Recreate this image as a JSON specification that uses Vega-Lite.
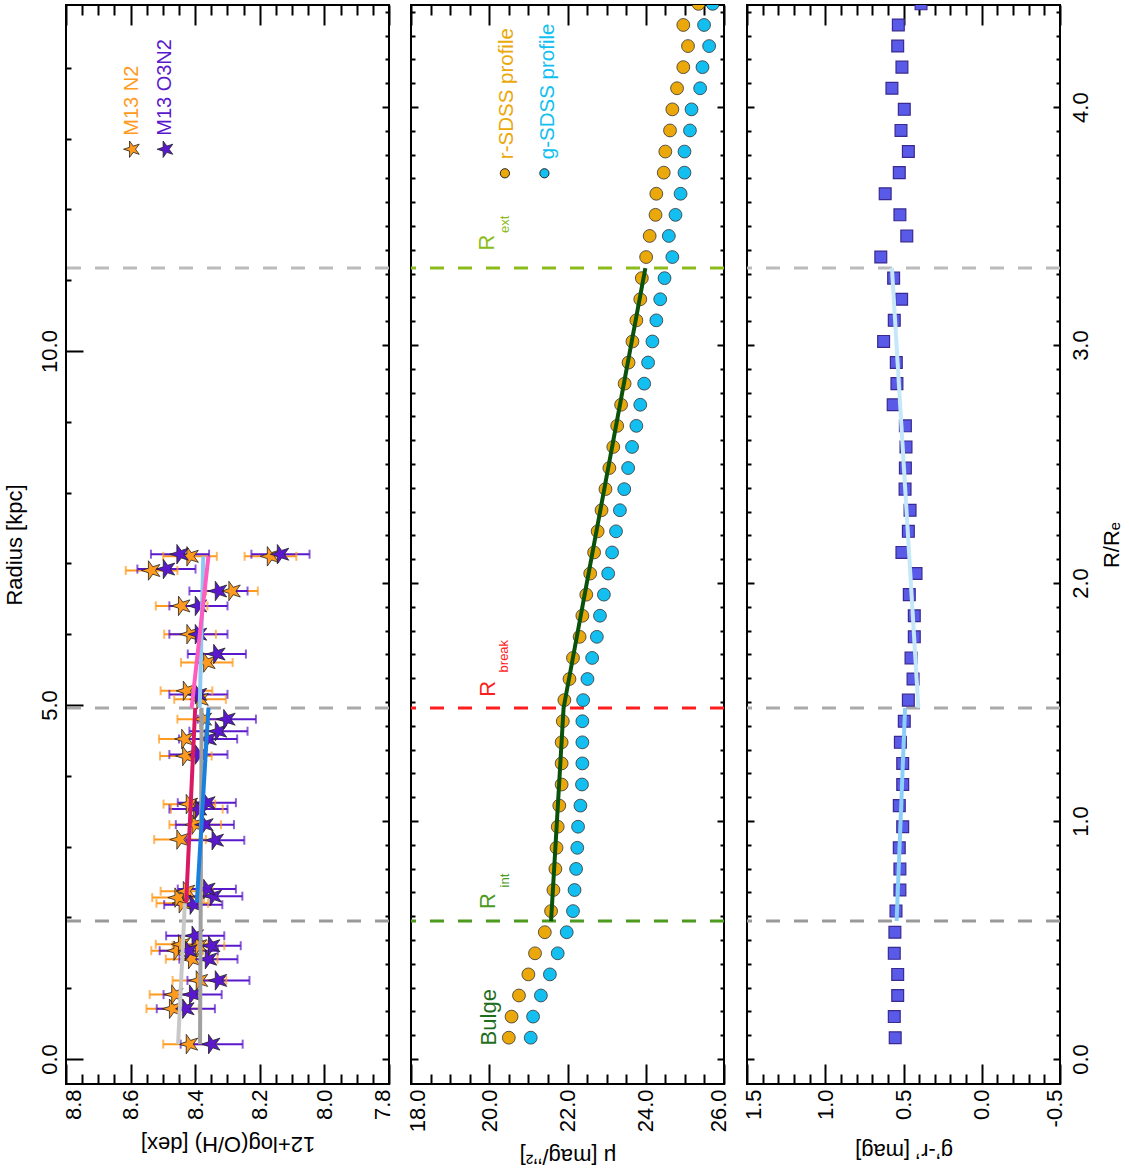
{
"$schema": "https://vega.github.io/schema/vega-lite/v6.json",
"background": "white",
"padding": {"left": 2, "top": 0, "right": 5, "bottom": 5},
"spacing": 11,
"config": {
  "view": {"stroke": "#000", "strokeWidth": 2},
  "axis": {"domain": false, "grid": false, "tickColor": "#000", "tickWidth": 2, "labelFont": "Liberation Sans", "labelFontSize": 22, "labelColor": "#000", "titleFont": "Liberation Sans", "titleFontSize": 22, "titleFontWeight": "normal", "titleColor": "#000", "labelFlush": false, "labelOverlap": false, "labelBound": false},
  "text": {"font": "Liberation Sans"}
},
"datasets": {
  "met": [
    {"cal":"N2","r":0.21,"v":8.418,"lo":8.337,"hi":8.499},
    {"cal":"N2","r":0.71,"v":8.470,"lo":8.389,"hi":8.551},
    {"cal":"N2","r":0.91,"v":8.463,"lo":8.385,"hi":8.541},
    {"cal":"N2","r":1.11,"v":8.387,"lo":8.304,"hi":8.470},
    {"cal":"N2","r":1.41,"v":8.411,"lo":8.331,"hi":8.491},
    {"cal":"N2","r":1.53,"v":8.456,"lo":8.376,"hi":8.536},
    {"cal":"N2","r":1.62,"v":8.442,"lo":8.362,"hi":8.522},
    {"cal":"N2","r":1.60,"v":8.390,"lo":8.310,"hi":8.470},
    {"cal":"N2","r":2.20,"v":8.440,"lo":8.360,"hi":8.520},
    {"cal":"N2","r":2.28,"v":8.453,"lo":8.373,"hi":8.533},
    {"cal":"N2","r":2.37,"v":8.427,"lo":8.347,"hi":8.507},
    {"cal":"N2","r":3.10,"v":8.447,"lo":8.367,"hi":8.527},
    {"cal":"N2","r":3.31,"v":8.400,"lo":8.320,"hi":8.480},
    {"cal":"N2","r":3.53,"v":8.395,"lo":8.315,"hi":8.475},
    {"cal":"N2","r":3.60,"v":8.418,"lo":8.338,"hi":8.498},
    {"cal":"N2","r":4.28,"v":8.429,"lo":8.349,"hi":8.509},
    {"cal":"N2","r":4.52,"v":8.432,"lo":8.352,"hi":8.512},
    {"cal":"N2","r":4.80,"v":8.375,"lo":8.295,"hi":8.455},
    {"cal":"N2","r":5.08,"v":8.385,"lo":8.305,"hi":8.465},
    {"cal":"N2","r":5.20,"v":8.427,"lo":8.347,"hi":8.507},
    {"cal":"N2","r":5.60,"v":8.364,"lo":8.284,"hi":8.444},
    {"cal":"N2","r":6.00,"v":8.416,"lo":8.336,"hi":8.496},
    {"cal":"N2","r":6.40,"v":8.442,"lo":8.362,"hi":8.522},
    {"cal":"N2","r":6.61,"v":8.286,"lo":8.206,"hi":8.366},
    {"cal":"N2","r":6.90,"v":8.535,"lo":8.455,"hi":8.615},
    {"cal":"N2","r":7.10,"v":8.416,"lo":8.333,"hi":8.499},
    {"cal":"N2","r":7.10,"v":8.167,"lo":8.087,"hi":8.247},
    {"cal":"O3N2","r":0.21,"v":8.349,"lo":8.253,"hi":8.445},
    {"cal":"O3N2","r":0.71,"v":8.429,"lo":8.339,"hi":8.519},
    {"cal":"O3N2","r":0.91,"v":8.408,"lo":8.318,"hi":8.498},
    {"cal":"O3N2","r":1.11,"v":8.328,"lo":8.232,"hi":8.424},
    {"cal":"O3N2","r":1.41,"v":8.359,"lo":8.269,"hi":8.449},
    {"cal":"O3N2","r":1.53,"v":8.420,"lo":8.330,"hi":8.510},
    {"cal":"O3N2","r":1.60,"v":8.349,"lo":8.259,"hi":8.439},
    {"cal":"O3N2","r":1.74,"v":8.400,"lo":8.310,"hi":8.490},
    {"cal":"O3N2","r":2.18,"v":8.406,"lo":8.316,"hi":8.496},
    {"cal":"O3N2","r":2.30,"v":8.344,"lo":8.254,"hi":8.434},
    {"cal":"O3N2","r":2.40,"v":8.364,"lo":8.274,"hi":8.454},
    {"cal":"O3N2","r":3.09,"v":8.338,"lo":8.248,"hi":8.428},
    {"cal":"O3N2","r":3.31,"v":8.370,"lo":8.280,"hi":8.460},
    {"cal":"O3N2","r":3.53,"v":8.390,"lo":8.300,"hi":8.480},
    {"cal":"O3N2","r":3.62,"v":8.364,"lo":8.274,"hi":8.454},
    {"cal":"O3N2","r":4.30,"v":8.390,"lo":8.300,"hi":8.480},
    {"cal":"O3N2","r":4.52,"v":8.360,"lo":8.270,"hi":8.450},
    {"cal":"O3N2","r":4.63,"v":8.328,"lo":8.238,"hi":8.418},
    {"cal":"O3N2","r":4.80,"v":8.302,"lo":8.212,"hi":8.392},
    {"cal":"O3N2","r":5.15,"v":8.390,"lo":8.300,"hi":8.480},
    {"cal":"O3N2","r":5.72,"v":8.333,"lo":8.243,"hi":8.423},
    {"cal":"O3N2","r":6.00,"v":8.390,"lo":8.300,"hi":8.480},
    {"cal":"O3N2","r":6.40,"v":8.390,"lo":8.300,"hi":8.480},
    {"cal":"O3N2","r":6.61,"v":8.328,"lo":8.238,"hi":8.418},
    {"cal":"O3N2","r":6.92,"v":8.489,"lo":8.399,"hi":8.579},
    {"cal":"O3N2","r":7.13,"v":8.447,"lo":8.357,"hi":8.537},
    {"cal":"O3N2","r":7.13,"v":8.136,"lo":8.046,"hi":8.226}
  ],
  "metfit": [
    {"seg":"n2bulge","r":0.21,"v":8.453},{"seg":"n2bulge","r":2.2,"v":8.432},
    {"seg":"o3bulge","r":0.21,"v":8.385},{"seg":"o3bulge","r":4.96,"v":8.38},
    {"seg":"n2in","r":2.21,"v":8.428},{"seg":"n2in","r":4.96,"v":8.40},
    {"seg":"o3in","r":2.21,"v":8.395},{"seg":"o3in","r":4.96,"v":8.359},
    {"seg":"o3out","r":4.96,"v":8.386},{"seg":"o3out","r":7.10,"v":8.375},
    {"seg":"n2out","r":4.96,"v":8.411},{"seg":"n2out","r":7.10,"v":8.359}
  ],
  "metleg": [
    {"cal":"N2","t":"M13 N2","v":8.597,"r":13.04,"sv":8.595,"sr":12.85},
    {"cal":"O3N2","t":"M13 O3N2","v":8.494,"r":13.04,"sv":8.491,"sr":12.85}
  ],
  "vl": [{"k":"int","r":1.949},{"k":"break","r":4.958},{"k":"ext","r":11.172}],
  "vl3": [{"k":"int","rre":0.580},{"k":"break","rre":1.475},{"k":"ext","rre":3.324}],
  "prof": [
    {"b":"r","r":0.301,"mu":20.50},{"b":"r","r":0.599,"mu":20.57},{"b":"r","r":0.897,"mu":20.76},{"b":"r","r":1.195,"mu":21.00},{"b":"r","r":1.493,"mu":21.17},
    {"b":"r","r":1.791,"mu":21.42},{"b":"r","r":2.089,"mu":21.58},{"b":"r","r":2.387,"mu":21.64},{"b":"r","r":2.685,"mu":21.69},{"b":"r","r":2.983,"mu":21.72},
    {"b":"r","r":3.281,"mu":21.75},{"b":"r","r":3.579,"mu":21.79},{"b":"r","r":3.877,"mu":21.85},{"b":"r","r":4.175,"mu":21.85},{"b":"r","r":4.473,"mu":21.85},
    {"b":"r","r":4.771,"mu":21.88},{"b":"r","r":5.069,"mu":21.92},{"b":"r","r":5.367,"mu":22.05},{"b":"r","r":5.665,"mu":22.14},{"b":"r","r":5.963,"mu":22.31},
    {"b":"r","r":6.261,"mu":22.38},{"b":"r","r":6.559,"mu":22.48},{"b":"r","r":6.857,"mu":22.58},{"b":"r","r":7.155,"mu":22.68},{"b":"r","r":7.453,"mu":22.77},
    {"b":"r","r":7.751,"mu":22.87},{"b":"r","r":8.049,"mu":22.97},{"b":"r","r":8.347,"mu":23.07},{"b":"r","r":8.645,"mu":23.17},{"b":"r","r":8.943,"mu":23.27},
    {"b":"r","r":9.241,"mu":23.37},{"b":"r","r":9.539,"mu":23.46},{"b":"r","r":9.837,"mu":23.56},{"b":"r","r":10.135,"mu":23.66},{"b":"r","r":10.433,"mu":23.76},
    {"b":"r","r":10.731,"mu":23.86},{"b":"r","r":11.029,"mu":23.90},{"b":"r","r":11.327,"mu":24.01},{"b":"r","r":11.625,"mu":24.10},{"b":"r","r":11.923,"mu":24.25},
    {"b":"r","r":12.221,"mu":24.27},{"b":"r","r":12.519,"mu":24.46},{"b":"r","r":12.817,"mu":24.50},{"b":"r","r":13.115,"mu":24.62},{"b":"r","r":13.413,"mu":24.68},
    {"b":"r","r":13.711,"mu":24.80},{"b":"r","r":14.009,"mu":24.96},{"b":"r","r":14.307,"mu":25.08},{"b":"r","r":14.605,"mu":24.96},{"b":"r","r":14.903,"mu":25.35},
    {"b":"g","r":0.301,"mu":21.06},{"b":"g","r":0.599,"mu":21.12},{"b":"g","r":0.897,"mu":21.32},{"b":"g","r":1.195,"mu":21.55},{"b":"g","r":1.493,"mu":21.75},
    {"b":"g","r":1.791,"mu":21.98},{"b":"g","r":2.089,"mu":22.14},{"b":"g","r":2.387,"mu":22.18},{"b":"g","r":2.685,"mu":22.22},{"b":"g","r":2.983,"mu":22.25},
    {"b":"g","r":3.281,"mu":22.27},{"b":"g","r":3.579,"mu":22.33},{"b":"g","r":3.877,"mu":22.37},{"b":"g","r":4.175,"mu":22.38},{"b":"g","r":4.473,"mu":22.38},
    {"b":"g","r":4.771,"mu":22.38},{"b":"g","r":5.069,"mu":22.40},{"b":"g","r":5.367,"mu":22.51},{"b":"g","r":5.665,"mu":22.63},{"b":"g","r":5.963,"mu":22.75},
    {"b":"g","r":6.261,"mu":22.83},{"b":"g","r":6.559,"mu":22.93},{"b":"g","r":6.857,"mu":23.04},{"b":"g","r":7.155,"mu":23.14},{"b":"g","r":7.453,"mu":23.24},
    {"b":"g","r":7.751,"mu":23.34},{"b":"g","r":8.049,"mu":23.45},{"b":"g","r":8.347,"mu":23.55},{"b":"g","r":8.645,"mu":23.65},{"b":"g","r":8.943,"mu":23.76},
    {"b":"g","r":9.241,"mu":23.86},{"b":"g","r":9.539,"mu":23.96},{"b":"g","r":9.837,"mu":24.06},{"b":"g","r":10.135,"mu":24.17},{"b":"g","r":10.433,"mu":24.27},
    {"b":"g","r":10.731,"mu":24.37},{"b":"g","r":11.029,"mu":24.48},{"b":"g","r":11.327,"mu":24.68},{"b":"g","r":11.625,"mu":24.59},{"b":"g","r":11.923,"mu":24.76},
    {"b":"g","r":12.221,"mu":24.89},{"b":"g","r":12.519,"mu":24.99},{"b":"g","r":12.817,"mu":24.99},{"b":"g","r":13.115,"mu":25.13},{"b":"g","r":13.413,"mu":25.17},
    {"b":"g","r":13.711,"mu":25.39},{"b":"g","r":14.009,"mu":25.45},{"b":"g","r":14.307,"mu":25.62},{"b":"g","r":14.605,"mu":25.49},{"b":"g","r":14.903,"mu":25.71}
  ],
  "proffit": [{"r":1.949,"mu":21.58},{"r":4.958,"mu":21.90},{"r":11.172,"mu":23.99}],
  "profleg": [
    {"b":"r","t":"r-SDSS profile","mu":20.45,"r":12.71,"cmu":20.40,"cr":12.51},
    {"b":"g","t":"g-SDSS profile","mu":21.51,"r":12.71,"cmu":21.41,"cr":12.51}
  ],
  "ann": [
    {"k":"bulge","t":"Bulge","mu":19.99,"r":0.59,"sz":"big"},
    {"k":"int","t":"R","mu":19.97,"r":2.23,"sz":"big"},
    {"k":"int","t":"int","mu":20.40,"r":2.52,"sz":"small"},
    {"k":"break","t":"R","mu":19.97,"r":5.23,"sz":"big"},
    {"k":"break","t":"break","mu":20.37,"r":5.69,"sz":"small"},
    {"k":"ext","t":"R","mu":19.94,"r":11.53,"sz":"big"},
    {"k":"ext","t":"ext","mu":20.40,"r":11.79,"sz":"small"}
  ],
  "col": [
    {"rre":0.0895,"c":0.553},{"rre":0.1782,"c":0.559},{"rre":0.2668,"c":0.537},{"rre":0.3555,"c":0.537},{"rre":0.4441,"c":0.559},
    {"rre":0.5328,"c":0.555},{"rre":0.6215,"c":0.548},{"rre":0.7101,"c":0.523},{"rre":0.7988,"c":0.523},{"rre":0.8874,"c":0.527},
    {"rre":0.9761,"c":0.505},{"rre":1.0648,"c":0.527},{"rre":1.1534,"c":0.505},{"rre":1.2421,"c":0.505},{"rre":1.3307,"c":0.520},
    {"rre":1.4194,"c":0.495},{"rre":1.5081,"c":0.469},{"rre":1.5967,"c":0.439},{"rre":1.6854,"c":0.452},{"rre":1.7740,"c":0.431},
    {"rre":1.8627,"c":0.431},{"rre":1.9514,"c":0.463},{"rre":2.0400,"c":0.420},{"rre":2.1287,"c":0.510},{"rre":2.2173,"c":0.469},
    {"rre":2.3060,"c":0.458},{"rre":2.3947,"c":0.490},{"rre":2.4833,"c":0.488},{"rre":2.5720,"c":0.484},{"rre":2.6606,"c":0.488},
    {"rre":2.7493,"c":0.566},{"rre":2.8380,"c":0.542},{"rre":2.9266,"c":0.546},{"rre":3.0153,"c":0.627},{"rre":3.1039,"c":0.559},
    {"rre":3.1926,"c":0.512},{"rre":3.2813,"c":0.563},{"rre":3.3699,"c":0.645},{"rre":3.4586,"c":0.479},{"rre":3.5472,"c":0.523},
    {"rre":3.6359,"c":0.617},{"rre":3.7246,"c":0.527},{"rre":3.8132,"c":0.469},{"rre":3.9019,"c":0.516},{"rre":3.9905,"c":0.495},
    {"rre":4.0792,"c":0.574},{"rre":4.1679,"c":0.510},{"rre":4.2565,"c":0.537},{"rre":4.3452,"c":0.533},{"rre":4.4338,"c":0.388}
  ],
  "colfit": [
    {"seg":"in","rre":0.580,"c":0.544},{"seg":"in","rre":1.475,"c":0.490},
    {"seg":"out","rre":1.475,"c":0.405},{"seg":"out","rre":3.324,"c":0.574}
  ]
},
"hconcat": [
{
  "width": 323, "height": 1079,
  "resolve": {"axis": {"x": "independent", "y": "independent"}, "scale": {"color": "independent", "fill": "independent"}},
  "layer": [
    {"data": {"name": "met"}, "mark": {"type": "point", "opacity": 0},
     "encoding": {
       "x": {"field": "v", "type": "quantitative", "scale": {"domain": [7.8, 8.8], "reverse": true, "nice": false, "zero": false},
             "axis": {"orient": "bottom", "values": [8.8, 8.6, 8.4, 8.2, 8.0, 7.8], "format": ".1f", "tickSize": -20, "labelAngle": -90, "labelAlign": "right", "labelBaseline": "middle", "labelPadding": 25,
                      "labelOffset": {"condition": [{"test": "datum.value > 8.75", "value": 7}, {"test": "datum.value < 7.85", "value": -7}], "value": 0},
                      "title": "12+log(O/H) [dex]", "titleAngle": 180, "titleBaseline": "bottom", "titlePadding": 12}},
       "y": {"field": "r", "type": "quantitative", "scale": {"domain": [-0.353, 14.887], "nice": false, "zero": false},
             "axis": {"orient": "left", "values": [0, 5, 10], "format": ".1f", "tickSize": -17, "labelAngle": -90, "labelAlign": "center", "labelBaseline": "bottom", "labelPadding": 22, "title": "Radius [kpc]", "titlePadding": 12}}}},
    {"data": {"name": "met"}, "mark": {"type": "point", "opacity": 0},
     "encoding": {
       "x": {"field": "v", "type": "quantitative", "scale": {"domain": [7.8, 8.8], "reverse": true, "nice": false, "zero": false},
             "axis": {"orient": "bottom", "values": [8.75, 8.7, 8.65, 8.55, 8.5, 8.45, 8.35, 8.3, 8.25, 8.15, 8.1, 8.05, 7.95, 7.9, 7.85], "tickSize": -10, "labels": false, "title": null}},
       "y": {"field": "r", "type": "quantitative", "scale": {"domain": [-0.353, 14.887], "nice": false, "zero": false},
             "axis": {"orient": "left", "values": [1, 2, 3, 4, 6, 7, 8, 9, 11, 12, 13, 14], "tickSize": -5, "labels": false, "title": null}}}},
    {"data": {"name": "met"}, "mark": {"type": "point", "opacity": 0},
     "encoding": {
       "x": {"field": "v", "type": "quantitative", "scale": {"domain": [7.8, 8.8], "reverse": true, "nice": false, "zero": false},
             "axis": {"orient": "top", "values": [8.8, 8.6, 8.4, 8.2, 8.0, 7.8], "tickSize": -20, "labels": false, "title": null}},
       "y": {"field": "r", "type": "quantitative", "scale": {"domain": [-0.353, 14.887], "nice": false, "zero": false},
             "axis": {"orient": "right", "values": [0, 3.362, 6.723, 10.085, 13.446], "tickSize": -7, "labels": false, "title": null}}}},
    {"data": {"name": "met"}, "mark": {"type": "point", "opacity": 0},
     "encoding": {
       "x": {"field": "v", "type": "quantitative", "scale": {"domain": [7.8, 8.8], "reverse": true, "nice": false, "zero": false},
             "axis": {"orient": "top", "values": [8.75, 8.7, 8.65, 8.55, 8.5, 8.45, 8.35, 8.3, 8.25, 8.15, 8.1, 8.05, 7.95, 7.9, 7.85], "tickSize": -10, "labels": false, "title": null}},
       "y": {"field": "r", "type": "quantitative", "scale": {"domain": [-0.353, 14.887], "nice": false, "zero": false},
             "axis": {"orient": "right", "values": [0.336, 0.672, 1.008, 1.345, 1.681, 2.017, 2.353, 2.689, 3.025, 3.698, 4.034, 4.370, 4.706, 5.042, 5.379, 5.715, 6.051, 6.387, 7.059, 7.396, 7.732, 8.068, 8.404, 8.740, 9.076, 9.412, 9.749, 10.421, 10.757, 11.093, 11.429, 11.766, 12.102, 12.438, 12.774, 13.110, 13.783, 14.119, 14.455, 14.791], "tickSize": -4, "labels": false, "title": null}}}},
    {"data": {"name": "vl"}, "mark": {"type": "rule", "strokeWidth": 3, "strokeDash": [14, 14]},
     "encoding": {
       "y": {"field": "r", "type": "quantitative", "scale": {"domain": [-0.353, 14.887], "nice": false, "zero": false}, "axis": null},
       "color": {"field": "k", "type": "nominal", "scale": {"domain": ["int", "break", "ext"], "range": ["#999999", "#aaaaaa", "#bbbbbb"]}, "legend": null}}},
    {"data": {"name": "met"}, "mark": {"type": "rule", "strokeWidth": 2},
     "encoding": {
       "x": {"field": "lo", "type": "quantitative", "scale": {"domain": [7.8, 8.8], "reverse": true, "nice": false, "zero": false}, "axis": null},
       "x2": {"field": "hi"},
       "y": {"field": "r", "type": "quantitative", "scale": {"domain": [-0.353, 14.887], "nice": false, "zero": false}, "axis": null},
       "color": {"field": "cal", "type": "nominal", "scale": {"domain": ["N2", "O3N2"], "range": ["#ff9a1e", "#5a18cc"]}, "legend": null}}},
    {"data": {"name": "met"}, "mark": {"type": "tick", "orient": "vertical", "size": 9, "thickness": 2},
     "encoding": {
       "x": {"field": "lo", "type": "quantitative", "scale": {"domain": [7.8, 8.8], "reverse": true, "nice": false, "zero": false}, "axis": null},
       "y": {"field": "r", "type": "quantitative", "scale": {"domain": [-0.353, 14.887], "nice": false, "zero": false}, "axis": null},
       "color": {"field": "cal", "type": "nominal", "scale": {"domain": ["N2", "O3N2"], "range": ["#ff9a1e", "#5a18cc"]}, "legend": null}}},
    {"data": {"name": "met"}, "mark": {"type": "tick", "orient": "vertical", "size": 9, "thickness": 2},
     "encoding": {
       "x": {"field": "hi", "type": "quantitative", "scale": {"domain": [7.8, 8.8], "reverse": true, "nice": false, "zero": false}, "axis": null},
       "y": {"field": "r", "type": "quantitative", "scale": {"domain": [-0.353, 14.887], "nice": false, "zero": false}, "axis": null},
       "color": {"field": "cal", "type": "nominal", "scale": {"domain": ["N2", "O3N2"], "range": ["#ff9a1e", "#5a18cc"]}, "legend": null}}},
    {"data": {"name": "met"}, "mark": {"type": "point", "shape": "M-1,0L-0.307,-0.223L-0.309,-0.951L0.117,-0.361L0.809,-0.588L0.38,0L0.809,0.588L0.117,0.361L-0.309,0.951L-0.307,0.223Z", "filled": true, "stroke": "#222", "strokeWidth": 0.8, "size": 420, "opacity": 1},
     "encoding": {
       "x": {"field": "v", "type": "quantitative", "scale": {"domain": [7.8, 8.8], "reverse": true, "nice": false, "zero": false}, "axis": null},
       "y": {"field": "r", "type": "quantitative", "scale": {"domain": [-0.353, 14.887], "nice": false, "zero": false}, "axis": null},
       "fill": {"field": "cal", "type": "nominal", "scale": {"domain": ["N2", "O3N2"], "range": ["#ff9a1e", "#5a18cc"]}, "legend": null}}},
    {"data": {"name": "metfit"}, "mark": {"type": "line", "strokeWidth": 4},
     "encoding": {
       "x": {"field": "v", "type": "quantitative", "scale": {"domain": [7.8, 8.8], "reverse": true, "nice": false, "zero": false}, "axis": null},
       "y": {"field": "r", "type": "quantitative", "scale": {"domain": [-0.353, 14.887], "nice": false, "zero": false}, "axis": null},
       "order": {"field": "r", "type": "quantitative"},
       "color": {"field": "seg", "type": "nominal", "scale": {"domain": ["n2bulge", "o3bulge", "n2in", "o3in", "o3out", "n2out"], "range": ["#c8c8c8", "#a0a0a0", "#d81a64", "#1a80e0", "#8ccaf2", "#ff5cc0"]}, "legend": null}}},
    {"data": {"name": "metleg"}, "mark": {"type": "text", "angle": 270, "align": "left", "baseline": "middle", "fontSize": 20},
     "encoding": {
       "x": {"field": "v", "type": "quantitative", "scale": {"domain": [7.8, 8.8], "reverse": true, "nice": false, "zero": false}, "axis": null},
       "y": {"field": "r", "type": "quantitative", "scale": {"domain": [-0.353, 14.887], "nice": false, "zero": false}, "axis": null},
       "text": {"field": "t"},
       "color": {"field": "cal", "type": "nominal", "scale": {"domain": ["N2", "O3N2"], "range": ["#ff9a1e", "#5a18cc"]}, "legend": null}}},
    {"data": {"name": "metleg"}, "mark": {"type": "point", "shape": "M-1,0L-0.307,-0.223L-0.309,-0.951L0.117,-0.361L0.809,-0.588L0.38,0L0.809,0.588L0.117,0.361L-0.309,0.951L-0.307,0.223Z", "filled": true, "stroke": "#222", "strokeWidth": 0.8, "size": 300, "opacity": 1},
     "encoding": {
       "x": {"field": "sv", "type": "quantitative", "scale": {"domain": [7.8, 8.8], "reverse": true, "nice": false, "zero": false}, "axis": null},
       "y": {"field": "sr", "type": "quantitative", "scale": {"domain": [-0.353, 14.887], "nice": false, "zero": false}, "axis": null},
       "fill": {"field": "cal", "type": "nominal", "scale": {"domain": ["N2", "O3N2"], "range": ["#ff9a1e", "#5a18cc"]}, "legend": null}}}
  ]
},
{
  "width": 313, "height": 1079,
  "resolve": {"axis": {"x": "independent", "y": "independent"}, "scale": {"color": "independent", "fill": "independent"}},
  "layer": [
    {"data": {"name": "prof"}, "mark": {"type": "point", "opacity": 0},
     "encoding": {
       "x": {"field": "mu", "type": "quantitative", "scale": {"domain": [18, 26], "nice": false, "zero": false},
             "axis": {"orient": "bottom", "values": [18, 20, 22, 24, 26], "format": ".1f", "tickSize": -20, "labelAngle": -90, "labelAlign": "right", "labelBaseline": "middle", "labelPadding": 25,
                      "labelOffset": {"condition": [{"test": "datum.value < 18.5", "value": 6}, {"test": "datum.value > 25.5", "value": -6}], "value": 0},
                      "title": "μ [mag/’’²]", "titleAngle": 180, "titleBaseline": "bottom", "titlePadding": 12}},
       "y": {"field": "r", "type": "quantitative", "scale": {"domain": [-0.353, 14.887], "nice": false, "zero": false},
             "axis": {"orient": "left", "values": [0, 3.362, 6.723, 10.085, 13.446], "tickSize": -7, "labels": false, "title": null}}}},
    {"data": {"name": "prof"}, "mark": {"type": "point", "opacity": 0},
     "encoding": {
       "x": {"field": "mu", "type": "quantitative", "scale": {"domain": [18, 26], "nice": false, "zero": false},
             "axis": {"orient": "bottom", "values": [18.5, 19, 19.5, 20.5, 21, 21.5, 22.5, 23, 23.5, 24.5, 25, 25.5], "tickSize": -10, "labels": false, "title": null}},
       "y": {"field": "r", "type": "quantitative", "scale": {"domain": [-0.353, 14.887], "nice": false, "zero": false},
             "axis": {"orient": "left", "values": [0.336, 0.672, 1.008, 1.345, 1.681, 2.017, 2.353, 2.689, 3.025, 3.698, 4.034, 4.370, 4.706, 5.042, 5.379, 5.715, 6.051, 6.387, 7.059, 7.396, 7.732, 8.068, 8.404, 8.740, 9.076, 9.412, 9.749, 10.421, 10.757, 11.093, 11.429, 11.766, 12.102, 12.438, 12.774, 13.110, 13.783, 14.119, 14.455, 14.791], "tickSize": -4, "labels": false, "title": null}}}},
    {"data": {"name": "prof"}, "mark": {"type": "point", "opacity": 0},
     "encoding": {
       "x": {"field": "mu", "type": "quantitative", "scale": {"domain": [18, 26], "nice": false, "zero": false},
             "axis": {"orient": "top", "values": [18, 20, 22, 24, 26], "tickSize": -20, "labels": false, "title": null}},
       "y": {"field": "r", "type": "quantitative", "scale": {"domain": [-0.353, 14.887], "nice": false, "zero": false},
             "axis": {"orient": "right", "values": [0, 3.362, 6.723, 10.085, 13.446], "tickSize": -7, "labels": false, "title": null}}}},
    {"data": {"name": "prof"}, "mark": {"type": "point", "opacity": 0},
     "encoding": {
       "x": {"field": "mu", "type": "quantitative", "scale": {"domain": [18, 26], "nice": false, "zero": false},
             "axis": {"orient": "top", "values": [18.5, 19, 19.5, 20.5, 21, 21.5, 22.5, 23, 23.5, 24.5, 25, 25.5], "tickSize": -10, "labels": false, "title": null}},
       "y": {"field": "r", "type": "quantitative", "scale": {"domain": [-0.353, 14.887], "nice": false, "zero": false},
             "axis": {"orient": "right", "values": [0.336, 0.672, 1.008, 1.345, 1.681, 2.017, 2.353, 2.689, 3.025, 3.698, 4.034, 4.370, 4.706, 5.042, 5.379, 5.715, 6.051, 6.387, 7.059, 7.396, 7.732, 8.068, 8.404, 8.740, 9.076, 9.412, 9.749, 10.421, 10.757, 11.093, 11.429, 11.766, 12.102, 12.438, 12.774, 13.110, 13.783, 14.119, 14.455, 14.791], "tickSize": -4, "labels": false, "title": null}}}},
    {"data": {"name": "vl"}, "mark": {"type": "rule", "strokeWidth": 3, "strokeDash": [14, 14]},
     "encoding": {
       "y": {"field": "r", "type": "quantitative", "scale": {"domain": [-0.353, 14.887], "nice": false, "zero": false}, "axis": null},
       "color": {"field": "k", "type": "nominal", "scale": {"domain": ["int", "break", "ext"], "range": ["#4c9a1e", "#ff1e1e", "#8cbc1c"]}, "legend": null}}},
    {"data": {"name": "prof"}, "mark": {"type": "point", "shape": "circle", "filled": true, "stroke": "#333", "strokeWidth": 0.8, "size": 165, "opacity": 1, "clip": true},
     "encoding": {
       "x": {"field": "mu", "type": "quantitative", "scale": {"domain": [18, 26], "nice": false, "zero": false}, "axis": null},
       "y": {"field": "r", "type": "quantitative", "scale": {"domain": [-0.353, 14.887], "nice": false, "zero": false}, "axis": null},
       "fill": {"field": "b", "type": "nominal", "scale": {"domain": ["r", "g"], "range": ["#eba80a", "#12bff0"]}, "legend": null}}},
    {"data": {"name": "proffit"}, "mark": {"type": "line", "strokeWidth": 4, "color": "#0a520a"},
     "encoding": {
       "x": {"field": "mu", "type": "quantitative", "scale": {"domain": [18, 26], "nice": false, "zero": false}, "axis": null},
       "y": {"field": "r", "type": "quantitative", "scale": {"domain": [-0.353, 14.887], "nice": false, "zero": false}, "axis": null},
       "order": {"field": "r", "type": "quantitative"}}},
    {"data": {"name": "profleg"}, "mark": {"type": "text", "angle": 270, "align": "left", "baseline": "middle", "fontSize": 20.5},
     "encoding": {
       "x": {"field": "mu", "type": "quantitative", "scale": {"domain": [18, 26], "nice": false, "zero": false}, "axis": null},
       "y": {"field": "r", "type": "quantitative", "scale": {"domain": [-0.353, 14.887], "nice": false, "zero": false}, "axis": null},
       "text": {"field": "t"},
       "color": {"field": "b", "type": "nominal", "scale": {"domain": ["r", "g"], "range": ["#eba80a", "#12bff0"]}, "legend": null}}},
    {"data": {"name": "profleg"}, "mark": {"type": "point", "shape": "circle", "filled": true, "stroke": "#222", "strokeWidth": 1, "size": 85, "opacity": 1},
     "encoding": {
       "x": {"field": "cmu", "type": "quantitative", "scale": {"domain": [18, 26], "nice": false, "zero": false}, "axis": null},
       "y": {"field": "cr", "type": "quantitative", "scale": {"domain": [-0.353, 14.887], "nice": false, "zero": false}, "axis": null},
       "fill": {"field": "b", "type": "nominal", "scale": {"domain": ["r", "g"], "range": ["#eba80a", "#12bff0"]}, "legend": null}}},
    {"data": {"name": "ann"}, "transform": [{"filter": "datum.sz === 'big'"}], "mark": {"type": "text", "angle": 270, "align": "center", "baseline": "middle", "fontSize": 22},
     "encoding": {
       "x": {"field": "mu", "type": "quantitative", "scale": {"domain": [18, 26], "nice": false, "zero": false}, "axis": null},
       "y": {"field": "r", "type": "quantitative", "scale": {"domain": [-0.353, 14.887], "nice": false, "zero": false}, "axis": null},
       "text": {"field": "t"},
       "color": {"field": "k", "type": "nominal", "scale": {"domain": ["bulge", "int", "break", "ext"], "range": ["#1e6e1e", "#4c9a1e", "#ff1e1e", "#8cbc1c"]}, "legend": null}}},
    {"data": {"name": "ann"}, "transform": [{"filter": "datum.sz === 'small'"}], "mark": {"type": "text", "angle": 270, "align": "center", "baseline": "middle", "fontSize": 13},
     "encoding": {
       "x": {"field": "mu", "type": "quantitative", "scale": {"domain": [18, 26], "nice": false, "zero": false}, "axis": null},
       "y": {"field": "r", "type": "quantitative", "scale": {"domain": [-0.353, 14.887], "nice": false, "zero": false}, "axis": null},
       "text": {"field": "t"},
       "color": {"field": "k", "type": "nominal", "scale": {"domain": ["bulge", "int", "break", "ext"], "range": ["#1e6e1e", "#4c9a1e", "#ff1e1e", "#8cbc1c"]}, "legend": null}}}
  ]
},
{
  "width": 313, "height": 1079,
  "resolve": {"axis": {"x": "independent", "y": "independent"}, "scale": {"color": "independent"}},
  "layer": [
    {"data": {"name": "col"}, "mark": {"type": "point", "opacity": 0},
     "encoding": {
       "x": {"field": "c", "type": "quantitative", "scale": {"domain": [-0.5, 1.5], "reverse": true, "nice": false, "zero": false},
             "axis": {"orient": "bottom", "values": [1.5, 1.0, 0.5, 0.0, -0.5], "format": ".1f", "labelExpr": "replace(datum.label, '\u2212', '-')", "tickSize": -20, "labelAngle": -90, "labelAlign": "right", "labelBaseline": "middle", "labelPadding": 25,
                      "labelOffset": {"condition": [{"test": "datum.value > 1.45", "value": 6}, {"test": "datum.value < -0.45", "value": -6}], "value": 0},
                      "title": "g’-r’ [mag]", "titleAngle": 180, "titleBaseline": "bottom", "titlePadding": 12}},
       "y": {"field": "rre", "type": "quantitative", "scale": {"domain": [-0.105, 4.429], "nice": false, "zero": false},
             "axis": {"orient": "left", "values": [0, 1, 2, 3, 4], "tickSize": -7, "labels": false, "title": null}}}},
    {"data": {"name": "col"}, "mark": {"type": "point", "opacity": 0},
     "encoding": {
       "x": {"field": "c", "type": "quantitative", "scale": {"domain": [-0.5, 1.5], "reverse": true, "nice": false, "zero": false},
             "axis": {"orient": "bottom", "values": [1.4, 1.3, 1.2, 1.1, 0.9, 0.8, 0.7, 0.6, 0.4, 0.3, 0.2, 0.1, -0.1, -0.2, -0.3, -0.4], "tickSize": -10, "labels": false, "title": null}},
       "y": {"field": "rre", "type": "quantitative", "scale": {"domain": [-0.105, 4.429], "nice": false, "zero": false},
             "axis": {"orient": "left", "values": [0.1,0.2,0.3,0.4,0.5,0.6,0.7,0.8,0.9,1.1,1.2,1.3,1.4,1.5,1.6,1.7,1.8,1.9,2.1,2.2,2.3,2.4,2.5,2.6,2.7,2.8,2.9,3.1,3.2,3.3,3.4,3.5,3.6,3.7,3.8,3.9,4.1,4.2,4.3,4.4], "tickSize": -4, "labels": false, "title": null}}}},
    {"data": {"name": "col"}, "mark": {"type": "point", "opacity": 0},
     "encoding": {
       "x": {"field": "c", "type": "quantitative", "scale": {"domain": [-0.5, 1.5], "reverse": true, "nice": false, "zero": false},
             "axis": {"orient": "top", "values": [1.5, 1.0, 0.5, 0.0, -0.5], "tickSize": -20, "labels": false, "title": null}},
       "y": {"field": "rre", "type": "quantitative", "scale": {"domain": [-0.105, 4.429], "nice": false, "zero": false},
             "axis": {"orient": "right", "values": [0, 1, 2, 3, 4], "format": ".1f", "tickSize": -7, "labelAngle": -90, "labelAlign": "center", "labelBaseline": "top", "labelPadding": 17, "title": "R/Rₑ", "titleAngle": -90, "titleBaseline": "top", "titlePadding": 10}}}},
    {"data": {"name": "col"}, "mark": {"type": "point", "opacity": 0},
     "encoding": {
       "x": {"field": "c", "type": "quantitative", "scale": {"domain": [-0.5, 1.5], "reverse": true, "nice": false, "zero": false},
             "axis": {"orient": "top", "values": [1.4, 1.3, 1.2, 1.1, 0.9, 0.8, 0.7, 0.6, 0.4, 0.3, 0.2, 0.1, -0.1, -0.2, -0.3, -0.4], "tickSize": -10, "labels": false, "title": null}},
       "y": {"field": "rre", "type": "quantitative", "scale": {"domain": [-0.105, 4.429], "nice": false, "zero": false},
             "axis": {"orient": "right", "values": [0.1,0.2,0.3,0.4,0.5,0.6,0.7,0.8,0.9,1.1,1.2,1.3,1.4,1.5,1.6,1.7,1.8,1.9,2.1,2.2,2.3,2.4,2.5,2.6,2.7,2.8,2.9,3.1,3.2,3.3,3.4,3.5,3.6,3.7,3.8,3.9,4.1,4.2,4.3,4.4], "tickSize": -4, "labels": false, "title": null}}}},
    {"data": {"name": "vl3"}, "mark": {"type": "rule", "strokeWidth": 3, "strokeDash": [14, 14]},
     "encoding": {
       "y": {"field": "rre", "type": "quantitative", "scale": {"domain": [-0.105, 4.429], "nice": false, "zero": false}, "axis": null},
       "color": {"field": "k", "type": "nominal", "scale": {"domain": ["int", "break", "ext"], "range": ["#999999", "#aaaaaa", "#bbbbbb"]}, "legend": null}}},
    {"data": {"name": "col"}, "mark": {"type": "point", "shape": "square", "filled": true, "color": "#5a5ae8", "stroke": "#3a2a90", "strokeWidth": 1.2, "size": 140, "opacity": 1, "clip": true},
     "encoding": {
       "x": {"field": "c", "type": "quantitative", "scale": {"domain": [-0.5, 1.5], "reverse": true, "nice": false, "zero": false}, "axis": null},
       "y": {"field": "rre", "type": "quantitative", "scale": {"domain": [-0.105, 4.429], "nice": false, "zero": false}, "axis": null}}},
    {"data": {"name": "colfit"}, "mark": {"type": "line", "strokeWidth": 4},
     "encoding": {
       "x": {"field": "c", "type": "quantitative", "scale": {"domain": [-0.5, 1.5], "reverse": true, "nice": false, "zero": false}, "axis": null},
       "y": {"field": "rre", "type": "quantitative", "scale": {"domain": [-0.105, 4.429], "nice": false, "zero": false}, "axis": null},
       "order": {"field": "rre", "type": "quantitative"},
       "color": {"field": "seg", "type": "nominal", "scale": {"domain": ["in", "out"], "range": ["#8ccff8", "#c4e8fa"]}, "legend": null}}}
  ]
}
]
}
